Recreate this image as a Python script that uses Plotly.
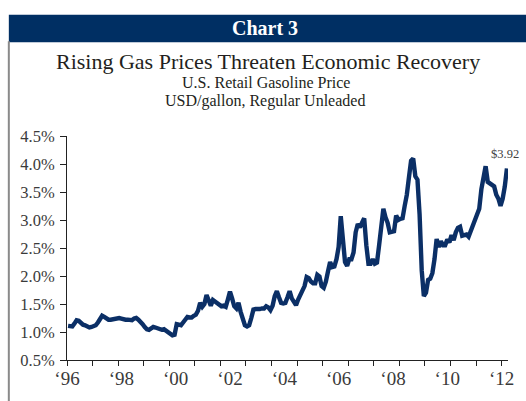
import plotly.graph_objects as go

# ---------------- data ----------------
years = list(range(1995, 2013))
prices_by_year = {
    1995: [1.11, 1.10, 1.10, 1.15, 1.21, 1.20, 1.16, 1.13, 1.12, 1.10, 1.08, 1.09],
    1996: [1.11, 1.12, 1.17, 1.25, 1.29, 1.27, 1.24, 1.22, 1.22, 1.23, 1.25, 1.25],
    1997: [1.25, 1.24, 1.22, 1.22, 1.22, 1.21, 1.21, 1.24, 1.25, 1.22, 1.19, 1.14],
    1998: [1.09, 1.05, 1.04, 1.06, 1.09, 1.08, 1.06, 1.04, 1.04, 1.05, 1.02, 0.98],
    1999: [0.96, 0.94, 0.95, 1.14, 1.13, 1.12, 1.17, 1.24, 1.27, 1.26, 1.26, 1.29],
    2000: [1.31, 1.38, 1.52, 1.45, 1.50, 1.66, 1.58, 1.47, 1.57, 1.54, 1.53, 1.48],
    2001: [1.46, 1.47, 1.45, 1.58, 1.72, 1.60, 1.46, 1.42, 1.52, 1.36, 1.25, 1.12],
    2002: [1.10, 1.12, 1.25, 1.40, 1.41, 1.40, 1.41, 1.42, 1.42, 1.46, 1.44, 1.39],
    2003: [1.47, 1.64, 1.73, 1.62, 1.52, 1.51, 1.52, 1.62, 1.73, 1.60, 1.52, 1.48],
    2004: [1.58, 1.67, 1.76, 1.82, 1.98, 1.96, 1.90, 1.87, 1.87, 2.02, 1.99, 1.82],
    2005: [1.79, 1.90, 2.08, 2.25, 2.16, 2.17, 2.30, 2.52, 3.07, 2.72, 2.25, 2.18],
    2006: [2.30, 2.30, 2.42, 2.78, 2.93, 2.87, 2.98, 3.03, 2.55, 2.22, 2.22, 2.30],
    2007: [2.22, 2.24, 2.55, 2.86, 3.20, 3.05, 2.95, 2.78, 2.80, 2.80, 3.08, 3.00],
    2008: [3.02, 3.03, 3.25, 3.45, 3.76, 4.06, 4.10, 3.78, 3.72, 3.10, 2.10, 1.64],
    2009: [1.70, 1.93, 1.95, 2.05, 2.30, 2.66, 2.52, 2.62, 2.55, 2.55, 2.65, 2.60],
    2010: [2.73, 2.64, 2.78, 2.86, 2.88, 2.72, 2.73, 2.74, 2.70, 2.80, 2.86, 2.98],
    2011: [3.10, 3.20, 3.55, 3.80, 3.96, 3.68, 3.65, 3.64, 3.60, 3.45, 3.38, 3.25],
    2012: [3.38, 3.60, 3.92],
}
y_tick_vals = [0.5, 1.0, 1.5, 2.0, 2.5, 3.0, 3.5, 4.0, 4.5]
y_tick_text = ["0.5%", "1.0%", "1.5%", "2.0%", "2.5%", "3.0%", "3.5%", "4.0%", "4.5%"]
x_label_text = ["‘96", "‘98", "‘00", "‘02", "‘04", "‘06", "‘08", "‘10", "‘12"]
last_label = "$3.92"

# time positions (mid-month, decimal years)
x_vals, y_vals = [], []
for yr in years:
    for i, v in enumerate(prices_by_year[yr]):
        x_vals.append(yr + (i + 0.5) / 12.0)
        y_vals.append(v)

x_min, x_max = 1995.0, 2012.25
# label positions: evenly spaced from first to last year tick (as drawn in the original)
n_lab = len(x_label_text)
x_label_pos = [1995 + k * (2012 - 1995) / (n_lab - 1) for k in range(n_lab)]

# ---------------- layout helpers ----------------
W, H = 526, 401
L, R, T, B = 66.7, 526 - 511.7, 136, 401 - 363
pw, ph = W - L - R, H - T - B

def px(xp):
    return (xp - L) / pw

def py(yp):
    return (H - B - yp) / ph

NAVY = "#002f63"
LINE = "#0b2f66"
SERIF = "Liberation Serif, Times New Roman, serif"

fig = go.Figure()
fig.add_trace(go.Scatter(
    x=x_vals, y=y_vals, mode="lines",
    line=dict(color=LINE, width=4.4, shape="linear"),
    hoverinfo="skip", showlegend=False, xaxis="x", yaxis="y",
))
# invisible trace to carry the label axis
fig.add_trace(go.Scatter(
    x=[x_min, x_max], y=[None, None], mode="lines",
    showlegend=False, hoverinfo="skip", xaxis="x2", yaxis="y",
))

fig.add_annotation(
    x=x_vals[-1], y=y_vals[-1], xref="x", yref="y", text=last_label,
    showarrow=False, yshift=14, xshift=-2,
    font=dict(family=SERIF, size=12.5, color="#404040"),
)

# header bar and frame
fig.add_shape(type="rect", xref="paper", yref="paper",
              x0=px(8), x1=px(530), y0=py(41), y1=py(13),
              fillcolor=NAVY, line=dict(width=0), layer="above")
fig.add_shape(type="line", xref="paper", yref="paper",
              x0=px(8), x1=px(8), y0=py(40), y1=py(405),
              line=dict(color="#8a8a8a", width=2))

fig.add_annotation(x=px(267), y=py(27), xref="paper", yref="paper",
                   text="<b>Chart 3</b>", showarrow=False,
                   xanchor="center", yanchor="middle",
                   font=dict(family=SERIF, size=20, color="white"))
fig.add_annotation(x=px(270), y=py(60), xref="paper", yref="paper",
                   text="Rising Gas Prices Threaten Economic Recovery", showarrow=False,
                   xanchor="center", yanchor="middle",
                   font=dict(family=SERIF, size=22, color="#231f20"))
fig.add_annotation(x=px(268), y=py(82), xref="paper", yref="paper",
                   text="U.S. Retail Gasoline Price", showarrow=False,
                   xanchor="center", yanchor="middle",
                   font=dict(family=SERIF, size=16, color="#231f20"))
fig.add_annotation(x=px(266), y=py(101), xref="paper", yref="paper",
                   text="USD/gallon, Regular Unleaded", showarrow=False,
                   xanchor="center", yanchor="middle",
                   font=dict(family=SERIF, size=16, color="#231f20"))

fig.update_layout(
    width=W, height=H,
    margin=dict(l=L, r=R, t=T, b=B),
    paper_bgcolor="white", plot_bgcolor="white",
    showlegend=False,
    xaxis=dict(
        range=[x_min, x_max], tickmode="array", tickvals=years,
        showticklabels=False, ticks="outside", ticklen=5, tickcolor="#222",
        tickwidth=1, showline=True, linecolor="#222", linewidth=1,
        showgrid=False, zeroline=False, fixedrange=True,
    ),
    xaxis2=dict(
        range=[x_min, x_max], overlaying="x", side="bottom", anchor="y",
        tickmode="array", tickvals=x_label_pos, ticktext=x_label_text,
        ticks="", showline=False, showgrid=False, zeroline=False,
        ticklabelstandoff=5,
        tickfont=dict(family=SERIF, size=19, color="#3a3a3a"),
    ),
    yaxis=dict(
        range=[0.5, 4.5], tickmode="array", tickvals=y_tick_vals, ticktext=y_tick_text,
        ticks="outside", ticklen=6, tickcolor="#222", tickwidth=1,
        showline=True, linecolor="#222", linewidth=1,
        showgrid=False, zeroline=False,
        ticklabelstandoff=2,
        tickfont=dict(family=SERIF, size=16.5, color="#3a3a3a"),
    ),
)

fig.write_html(
    "out.html",
    config={"displayModeBar": False},
    post_script="document.body.style.margin='0px';document.body.style.padding='0px';",
)
